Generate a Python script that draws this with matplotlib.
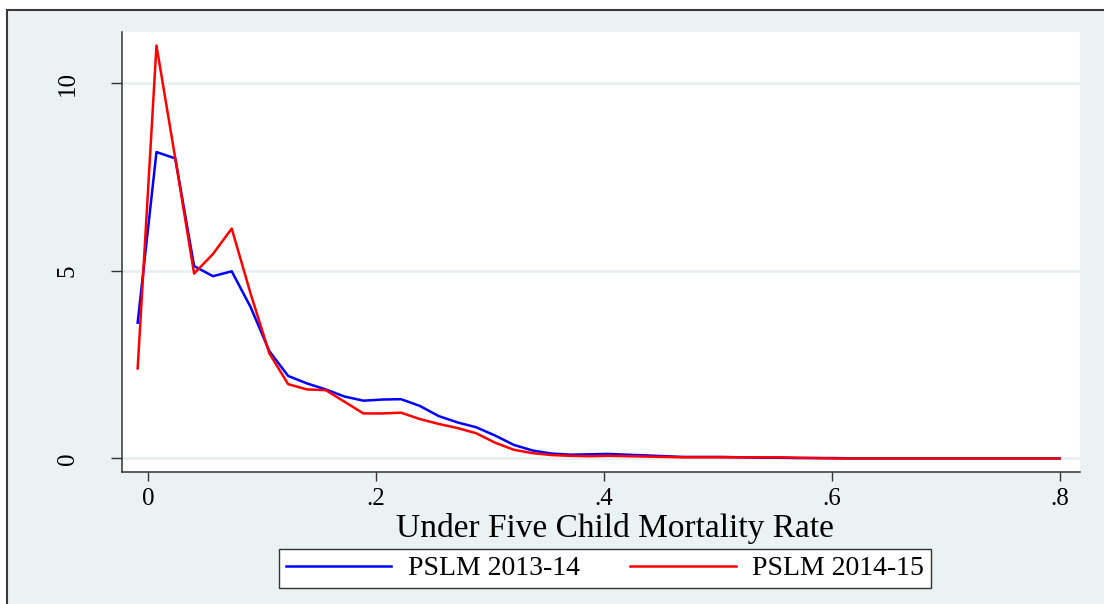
import numpy as np
import matplotlib
matplotlib.use("Agg")
import matplotlib.pyplot as plt
from matplotlib.patches import Rectangle

plt.rcParams['font.family'] = ['Liberation Serif', 'DejaVu Serif']

# grid of evaluation points
x_start = -0.009
x_step = 0.0165
n_pts = 50
mort_rate = [round(x_start + x_step * i, 4) for i in range(n_pts)]

# PSLM 2013-14
dens_1314 = [3.62, 8.17, 8.00, 5.13, 4.86, 4.99, 4.04, 2.86, 2.20, 2.00,
             1.84, 1.65, 1.54, 1.57, 1.58, 1.40, 1.13, 0.96, 0.83, 0.61,
             0.36, 0.21, 0.13, 0.10, 0.11, 0.12, 0.10, 0.08, 0.06, 0.04,
             0.04, 0.04, 0.03, 0.02, 0.02, 0.01, 0.01, 0.01, 0.0, 0.0,
             0.0, 0.0, 0.0, 0.0, 0.0, 0.0, 0.0, 0.0, 0.0, 0.0]
# PSLM 2014-15
dens_1415 = [2.40, 11.01, 8.00, 4.93, 5.45, 6.13, 4.40, 2.80, 1.98, 1.84,
             1.82, 1.51, 1.20, 1.20, 1.22, 1.05, 0.92, 0.81, 0.67, 0.42,
             0.23, 0.14, 0.09, 0.07, 0.06, 0.07, 0.06, 0.05, 0.04, 0.03,
             0.03, 0.03, 0.03, 0.03, 0.03, 0.02, 0.01, 0.0, 0.0, 0.0,
             0.0, 0.0, 0.0, 0.0, 0.0, 0.0, 0.0, 0.0, 0.0, 0.0]

series_labels = ['PSLM 2013-14', 'PSLM 2014-15']
x_ticks = [0, 0.2, 0.4, 0.6, 0.8]
x_ticklabels = ['0', '.2', '.4', '.6', '.8']
y_ticks = [0, 5, 10]
y_ticklabels = ['0', '5', '10']

W, H = 1104, 604
fig = plt.figure(figsize=(W / 100, H / 100), dpi=100, facecolor='white')

# stata style outer frame (cut off at right / bottom)
fig.patches.append(Rectangle((7 / W, -0.2), 1.2, 1 - 10 / H + 0.2,
                             transform=fig.transFigure, facecolor='#EAF2F3',
                             edgecolor='#3a3a3a', lw=1.5, zorder=-5))

ax = fig.add_axes([121.7 / W, 1 - 472.3 / H, (1080 - 121.7) / W, (472.3 - 31.7) / H])
ax.set_facecolor('white')

ax.plot(mort_rate, dens_1314, color='#0000FF', lw=1.8, label=series_labels[0])
ax.plot(mort_rate, dens_1415, color='#FF0000', lw=1.8, label=series_labels[1])

ax.set_xlim(-0.023, 0.8175)
ax.set_ylim(-0.37, 11.38)

for yv in y_ticks:
    ax.axhline(yv, color='#E6EEF1', lw=1.8, zorder=0)

ax.set_xticks(x_ticks)
ax.set_xticklabels(x_ticklabels, fontsize=18)
ax.set_yticks(y_ticks)
ax.set_yticklabels(y_ticklabels, fontsize=18, rotation=90, va='center')
ax.tick_params(axis='x', length=6.5, width=1, color='#333333', pad=5)
ax.tick_params(axis='y', length=8, width=1, color='#333333', pad=23)

for s in ['top', 'right']:
    ax.spines[s].set_visible(False)
for s in ['left', 'bottom']:
    ax.spines[s].set_color('#333333')
    ax.spines[s].set_linewidth(1.1)

ax.set_xlabel('Under Five Child Mortality Rate', fontsize=24)
ax.xaxis.set_label_coords(0.515, -0.093)

leg = fig.legend(loc='center', bbox_to_anchor=(605 / W, 1 - 568.5 / H), ncol=2,
                 fontsize=20, handlelength=3.8, handletextpad=0.6,
                 columnspacing=1.8, fancybox=False, framealpha=1,
                 edgecolor='#333333', borderpad=0.25)
leg.get_frame().set_linewidth(1.0)

fig.savefig('out.png', dpi=100, facecolor=fig.get_facecolor())
